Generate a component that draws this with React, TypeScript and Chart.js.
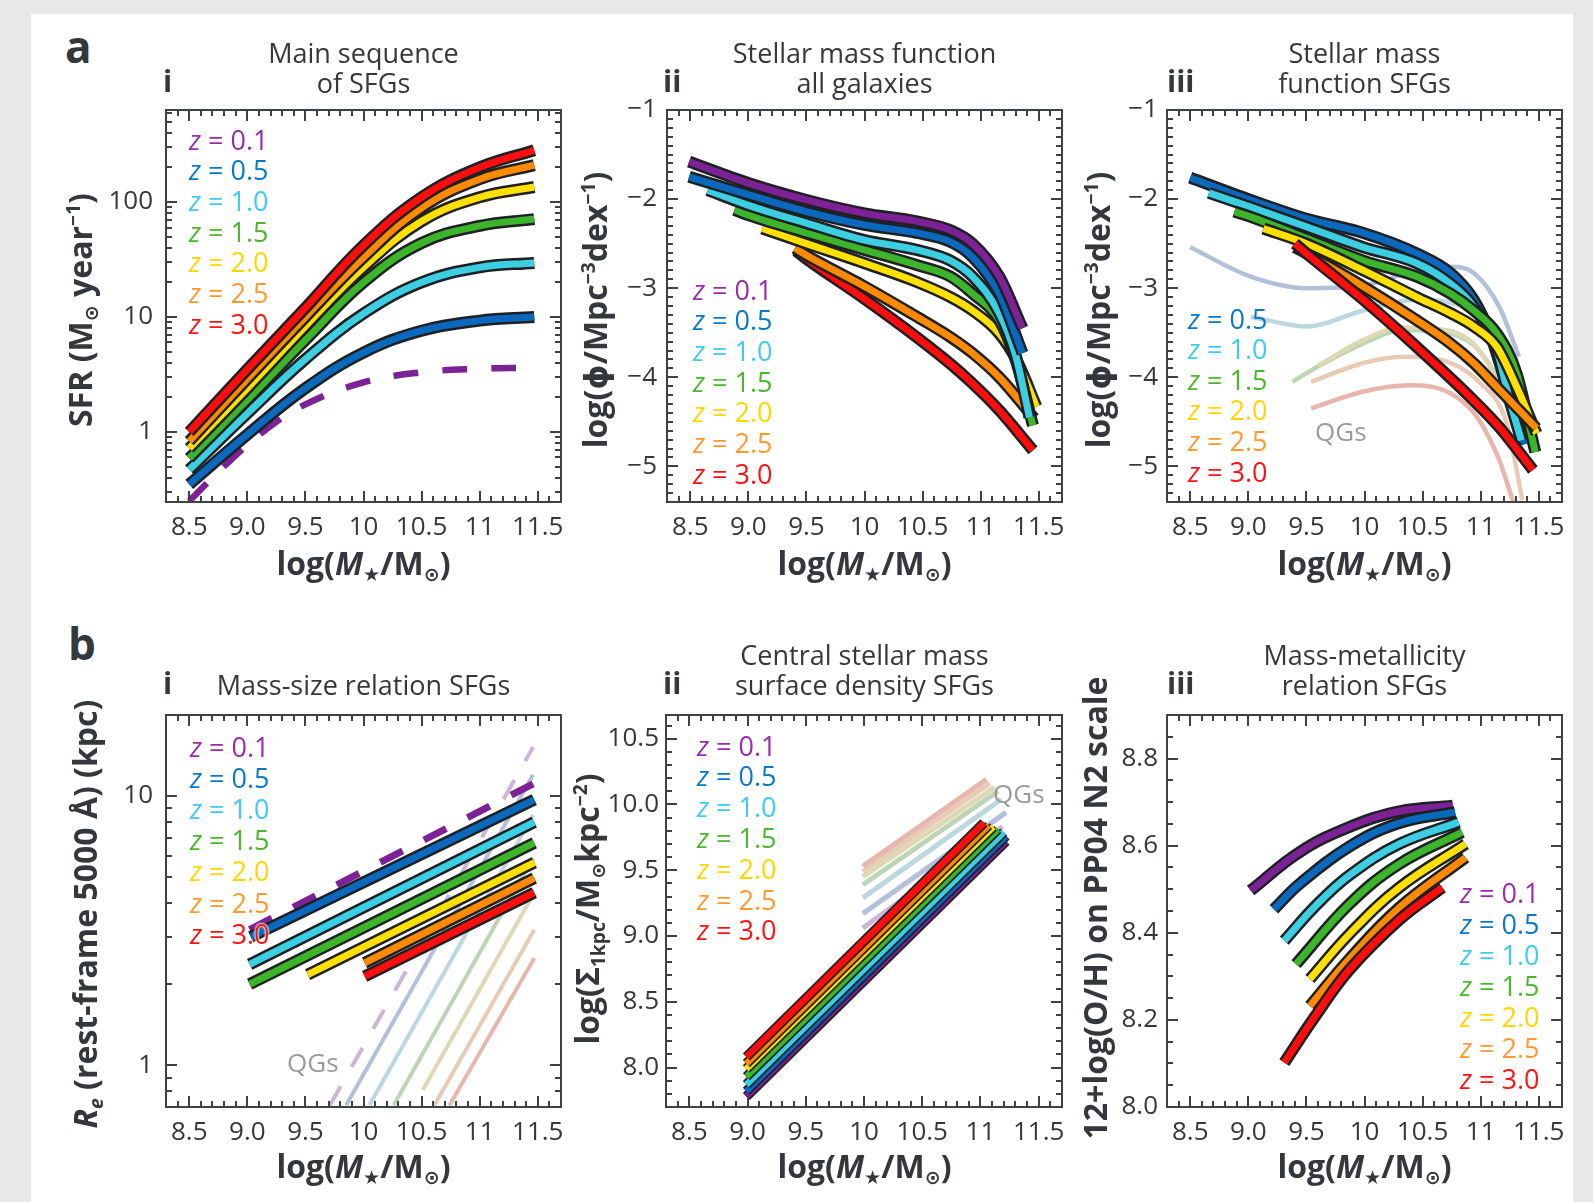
import React, { useEffect, useRef } from "react";
import { Chart, registerables } from "chart.js";

Chart.register(...registerables);

const FONT = "'Open Sans', 'DejaVu Sans', sans-serif";
const INK = "#34373b";
const OUTLINE = "#1e2023";

// ---------- shared labels / colours ----------
const zLabels = ["0.1", "0.5", "1.0", "1.5", "2.0", "2.5", "3.0"];
const zLineColors = ["#7d2196", "#0a68bd", "#3ccfe2", "#3cb52b", "#ffe000", "#ff8a00", "#ff0d0d"];
const zTextColors = ["#9a2ca9", "#0a78c8", "#3fcaf0", "#4cb72c", "#ffd600", "#ff9a32", "#ff1212"];
const zFaintColors = ["#cbb6d6", "#b3c0d9", "#bcd7dd", "#bed4b6", "#ddd9b4", "#e8cbb6", "#e7b6ad"];

const massTicks = [8.5, 9.0, 9.5, 10.0, 10.5, 11.0, 11.5];
const massTickLabels = ["8.5", "9.0", "9.5", "10", "10.5", "11", "11.5"];

// ---------- a-i : main sequence (SFR, Msun/yr) ----------
const msMass = [8.5, 9.0, 9.5, 10.0, 10.5, 11.0, 11.47];
const msSfrZ05 = [0.35, 0.95, 2.4, 4.9, 7.6, 9.3, 10.0];
const msSfrZ10 = [0.47, 1.45, 4.3, 10.7, 20, 27, 29.5];
const msSfrZ15 = [0.59, 1.9, 6.3, 20, 44, 62, 71];
const msSfrZ20 = [0.72, 2.4, 8.3, 27, 68, 110, 135];
const msSfrZ25 = [0.83, 2.9, 10, 33, 89, 158, 209];
const msSfrZ30 = [1.0, 3.5, 12, 42, 110, 200, 282];
const msMassZ01 = [8.5, 8.84, 9.16, 9.5, 10.0, 10.5, 11.0, 11.4];
const msSfrZ01 = [0.25, 0.55, 1.05, 1.74, 2.7, 3.3, 3.55, 3.62];
const sfrTicks = [1, 10, 100];
const sfrTickLabels = ["1", "10", "100"];

// ---------- a-ii : stellar mass function, all galaxies ----------
const smfAllMassZ01 = [8.49, 9.0, 9.5, 10.0, 10.45, 10.74, 10.93, 11.16, 11.36];
const smfAllZ01 = [-1.58, -1.82, -2.01, -2.16, -2.25, -2.35, -2.5, -2.87, -3.45];
const smfAllMassZ05 = [8.49, 9.0, 9.5, 10.0, 10.45, 10.74, 10.93, 11.16, 11.36];
const smfAllZ05 = [-1.75, -1.95, -2.14, -2.29, -2.38, -2.48, -2.65, -3.06, -3.73];
const smfAllMassZ10 = [8.65, 9.0, 9.5, 10.0, 10.45, 10.74, 10.93, 11.16, 11.3, 11.42];
const smfAllZ10 = [-1.9, -2.07, -2.27, -2.46, -2.57, -2.69, -2.87, -3.28, -3.75, -4.45];
const smfAllMassZ15 = [8.88, 9.0, 9.5, 10.0, 10.45, 10.74, 10.93, 11.16, 11.3, 11.45];
const smfAllZ15 = [-2.12, -2.18, -2.38, -2.57, -2.74, -2.87, -3.06, -3.36, -3.8, -4.54];
const smfAllMassZ20 = [9.12, 9.5, 10.0, 10.45, 10.74, 10.93, 11.16, 11.31, 11.48];
const smfAllZ20 = [-2.33, -2.5, -2.72, -2.93, -3.1, -3.25, -3.51, -3.81, -4.33];
const smfAllMassZ25 = [9.4, 9.5, 10.0, 10.45, 10.74, 10.93, 11.16, 11.46];
const smfAllZ25 = [-2.55, -2.63, -2.98, -3.32, -3.55, -3.73, -4.0, -4.46];
const smfAllMassZ30 = [9.41, 9.5, 10.0, 10.45, 10.74, 10.93, 11.16, 11.45];
const smfAllZ30 = [-2.58, -2.67, -3.12, -3.55, -3.85, -4.07, -4.37, -4.82];
const phiTicks = [-1, -2, -3, -4, -5];
const phiTickLabels = ["\u22121", "\u22122", "\u22123", "\u22124", "\u22125"];

// ---------- a-iii : stellar mass function, SFGs (+ QGs) ----------
const smfSfMassZ05 = [8.5, 9.02, 9.5, 9.99, 10.45, 10.74, 10.94, 11.08, 11.2, 11.38];
const smfSfZ05 = [-1.76, -2.01, -2.22, -2.38, -2.61, -2.83, -3.13, -3.51, -4.0, -4.75];
const smfSfMassZ10 = [8.66, 9.02, 9.5, 9.99, 10.45, 10.74, 10.94, 11.14, 11.25, 11.35];
const smfSfZ10 = [-1.93, -2.09, -2.31, -2.54, -2.72, -2.95, -3.21, -3.7, -4.26, -4.71];
const smfSfMassZ15 = [8.88, 9.02, 9.5, 9.99, 10.45, 10.74, 10.94, 11.14, 11.31, 11.47];
const smfSfZ15 = [-2.14, -2.2, -2.44, -2.69, -2.87, -3.06, -3.25, -3.51, -3.96, -4.84];
const smfSfMassZ20 = [9.13, 9.5, 9.99, 10.45, 10.74, 10.94, 11.14, 11.31, 11.48];
const smfSfZ20 = [-2.33, -2.5, -2.8, -3.1, -3.28, -3.43, -3.66, -4.11, -4.63];
const smfSfMassZ25 = [9.4, 9.5, 9.99, 10.45, 10.74, 10.94, 11.14, 11.48];
const smfSfZ25 = [-2.54, -2.61, -2.98, -3.36, -3.62, -3.84, -4.11, -4.57];
const smfSfMassZ30 = [9.4, 9.5, 9.99, 10.45, 10.94, 11.16, 11.45];
const smfSfZ30 = [-2.5, -2.61, -3.13, -3.66, -4.26, -4.56, -5.04];
const smfQgMassZ05 = [8.5, 9.02, 9.5, 9.99, 10.45, 10.74, 10.94, 11.16, 11.33];
const smfQgZ05 = [-2.54, -2.87, -3.0, -2.97, -2.8, -2.76, -2.83, -3.21, -3.77];
const smfQgMassZ10 = [9.02, 9.5, 9.99, 10.45, 10.94, 11.16, 11.33];
const smfQgZ10 = [-3.32, -3.43, -3.25, -3.13, -3.28, -3.76, -4.33];
const smfQgMassZ15 = [9.38, 9.6, 9.99, 10.33, 10.74, 11.0, 11.22, 11.35];
const smfQgZ15 = [-4.05, -3.88, -3.62, -3.47, -3.51, -3.72, -4.24, -4.8];
const smfQgMassZ20 = [9.6, 9.99, 10.33, 10.74, 11.0, 11.22, 11.38];
const smfQgZ20 = [-3.87, -3.58, -3.44, -3.48, -3.72, -4.3, -5.0];
const smfQgMassZ25 = [9.54, 9.99, 10.33, 10.74, 11.0, 11.22, 11.36];
const smfQgZ25 = [-4.05, -3.84, -3.77, -3.84, -4.07, -4.5, -5.38];
const smfQgMassZ30 = [9.54, 9.99, 10.39, 10.74, 10.97, 11.16, 11.28];
const smfQgZ30 = [-4.35, -4.16, -4.09, -4.18, -4.45, -4.93, -5.4];

// ---------- b-i : mass-size relation (Re, kpc) ----------
const sizeMassZ01 = [9.02, 11.46];
const sizeZ01 = [3.19, 11.1];
const sizeMassZ05 = [9.03, 11.47];
const sizeZ05 = [3.0, 9.7];
const sizeMassZ10 = [9.02, 11.47];
const sizeZ10 = [2.37, 8.0];
const sizeMassZ15 = [9.02, 11.47];
const sizeZ15 = [2.0, 6.7];
const sizeMassZ20 = [9.52, 11.47];
const sizeZ20 = [2.17, 5.66];
const sizeMassZ25 = [10.01, 11.47];
const sizeZ25 = [2.4, 4.96];
const sizeMassZ30 = [10.01, 11.47];
const sizeZ30 = [2.14, 4.38];
const qgSizeMassZ01 = [9.71, 11.46];
const qgSizeZ01 = [0.71, 15.2];
const qgSizeMassZ05 = [9.85, 11.46];
const qgSizeZ05 = [0.71, 12.0];
const qgSizeMassZ10 = [10.05, 11.46];
const qgSizeZ10 = [0.71, 8.5];
const qgSizeMassZ15 = [10.26, 11.46];
const qgSizeZ15 = [0.71, 5.9];
const qgSizeMassZ20 = [10.51, 11.46];
const qgSizeZ20 = [0.81, 4.3];
const qgSizeMassZ25 = [10.61, 11.47];
const qgSizeZ25 = [0.71, 3.19];
const qgSizeMassZ30 = [10.74, 11.47];
const qgSizeZ30 = [0.71, 2.5];
const sizeTicks = [1, 10];
const sizeTickLabels = ["1", "10"];

// ---------- b-ii : central surface density ----------
const sigMassZ01 = [8.99, 11.22];
const sigZ01 = [7.78, 9.72];
const sigMassZ05 = [8.99, 11.22];
const sigZ05 = [7.82, 9.76];
const sigMassZ10 = [8.99, 11.2];
const sigZ10 = [7.87, 9.79];
const sigMassZ15 = [8.99, 11.15];
const sigZ15 = [7.93, 9.81];
const sigMassZ20 = [8.99, 11.11];
const sigZ20 = [7.99, 9.83];
const sigMassZ25 = [8.99, 11.07];
const sigZ25 = [8.03, 9.84];
const sigMassZ30 = [8.99, 11.03];
const sigZ30 = [8.08, 9.86];
const qgSigMassZ01 = [9.99, 11.19];
const qgSigZ01 = [9.06, 9.83];
const qgSigMassZ05 = [9.99, 11.22];
const qgSigZ05 = [9.17, 9.94];
const qgSigMassZ10 = [9.99, 11.18];
const qgSigZ10 = [9.29, 10.04];
const qgSigMassZ15 = [9.99, 11.15];
const qgSigZ15 = [9.39, 10.1];
const qgSigMassZ20 = [9.99, 11.12];
const qgSigZ20 = [9.45, 10.13];
const qgSigMassZ25 = [9.99, 11.08];
const qgSigZ25 = [9.49, 10.16];
const qgSigMassZ30 = [9.99, 11.05];
const qgSigZ30 = [9.53, 10.19];
const sigTicks = [8.0, 8.5, 9.0, 9.5, 10.0, 10.5];
const sigTickLabels = ["8.0", "8.5", "9.0", "9.5", "10.0", "10.5"];

// ---------- b-iii : mass-metallicity ----------
const mzrMassZ01 = [9.02, 9.44, 9.87, 10.3, 10.76];
const mzrZ01 = [8.497, 8.585, 8.643, 8.679, 8.692];
const mzrMassZ05 = [9.22, 9.44, 9.87, 10.3, 10.78];
const mzrZ05 = [8.454, 8.512, 8.598, 8.652, 8.677];
const mzrMassZ10 = [9.31, 9.58, 9.87, 10.3, 10.81];
const mzrZ10 = [8.382, 8.462, 8.532, 8.604, 8.654];
const mzrMassZ15 = [9.41, 9.87, 10.3, 10.84];
const mzrZ15 = [8.328, 8.466, 8.558, 8.631];
const mzrMassZ20 = [9.53, 9.87, 10.3, 10.87];
const mzrZ20 = [8.294, 8.397, 8.504, 8.604];
const mzrMassZ25 = [9.53, 9.87, 10.3, 10.87];
const mzrZ25 = [8.232, 8.34, 8.458, 8.573];
const mzrMassZ30 = [9.31, 9.58, 9.87, 10.3, 10.67];
const mzrZ30 = [8.102, 8.21, 8.315, 8.43, 8.504];
const ohTicks = [8.0, 8.2, 8.4, 8.6, 8.8];
const ohTickLabels = ["8.0", "8.2", "8.4", "8.6", "8.8"];

// ---------- helpers ----------
type Curve = "mono" | "spline" | "straight";
type LineSpec = {
  xs: number[];
  ys: number[];
  color: string;
  width: number;
  outline?: number;
  dash?: number[];
  curve: Curve;
};

type PanelSpec = {
  id: string;
  left: number;
  top: number;
  right: number;
  bottom: number;
  yLog: boolean;
  yMin: number;
  yMax: number;
  yTicks: number[];
  yTickLabels: string[];
  yMinor: number[];
  yPad: number;
  lines: LineSpec[];
};

const steps = (a: number, b: number, s: number) => {
  const n = Math.round((b - a) / s);
  return Array.from({ length: n + 1 }, (_, i) => +(a + i * s).toFixed(4));
};

const logMinor = (decades: number[], lo: number, hi: number) => {
  const out: number[] = [];
  decades.forEach((d) => {
    for (let k = 2; k <= 9; k++) {
      const v = +(k * d).toPrecision(3);
      if (v > lo && v < hi) out.push(v);
    }
  });
  return out;
};

const main = (xs: number[], ys: number[], z: number, curve: Curve = "mono", ow = 12, cw = 7): LineSpec => ({
  xs,
  ys,
  color: zLineColors[z],
  width: cw,
  outline: ow,
  curve,
});
const faint = (xs: number[], ys: number[], z: number, w = 4.5, curve: Curve = "mono", dash?: number[]): LineSpec => ({
  xs,
  ys,
  color: zFaintColors[z],
  width: w,
  curve,
  dash,
});

const AXIS_W = 120;
const AXIS_H = 50;
const PAD_T = 30;
const PAD_R = 30;

const PANELS: PanelSpec[] = [
  {
    id: "a1",
    left: 166, top: 110, right: 561, bottom: 502,
    yLog: true, yMin: 0.246, yMax: 631,
    yTicks: sfrTicks, yTickLabels: sfrTickLabels,
    yMinor: logMinor([0.1, 1, 10, 100], 0.246, 631), yPad: 13,
    lines: [
      { xs: msMassZ01, ys: msSfrZ01, color: zLineColors[0], width: 6.5, dash: [25, 24], curve: "spline" },
      main(msMass, msSfrZ05, 1, "spline"),
      main(msMass, msSfrZ10, 2, "spline"),
      main(msMass, msSfrZ15, 3, "spline"),
      main(msMass, msSfrZ20, 4, "spline"),
      main(msMass, msSfrZ25, 5, "spline"),
      main(msMass, msSfrZ30, 6, "spline"),
    ],
  },
  {
    id: "a2",
    left: 667, top: 110, right: 1062, bottom: 502,
    yLog: false, yMin: -5.4, yMax: -1,
    yTicks: phiTicks, yTickLabels: phiTickLabels,
    yMinor: steps(-5.4, -1, 0.1), yPad: 10,
    lines: [
      main(smfAllMassZ30, smfAllZ30, 6),
      main(smfAllMassZ25, smfAllZ25, 5),
      main(smfAllMassZ20, smfAllZ20, 4),
      main(smfAllMassZ15, smfAllZ15, 3),
      main(smfAllMassZ10, smfAllZ10, 2),
      main(smfAllMassZ05, smfAllZ05, 1),
      main(smfAllMassZ01, smfAllZ01, 0),
    ],
  },
  {
    id: "a3",
    left: 1167, top: 110, right: 1562, bottom: 502,
    yLog: false, yMin: -5.4, yMax: -1,
    yTicks: phiTicks, yTickLabels: phiTickLabels,
    yMinor: steps(-5.4, -1, 0.1), yPad: 9,
    lines: [
      faint(smfQgMassZ05, smfQgZ05, 1),
      faint(smfQgMassZ10, smfQgZ10, 2),
      faint(smfQgMassZ15, smfQgZ15, 3),
      faint(smfQgMassZ20, smfQgZ20, 4),
      faint(smfQgMassZ25, smfQgZ25, 5),
      faint(smfQgMassZ30, smfQgZ30, 6),
      main(smfSfMassZ05, smfSfZ05, 1),
      main(smfSfMassZ10, smfSfZ10, 2),
      main(smfSfMassZ15, smfSfZ15, 3),
      main(smfSfMassZ20, smfSfZ20, 4),
      main(smfSfMassZ25, smfSfZ25, 5),
      main(smfSfMassZ30, smfSfZ30, 6),
    ],
  },
  {
    id: "b1",
    left: 166, top: 715, right: 561, bottom: 1107,
    yLog: true, yMin: 0.705, yMax: 20,
    yTicks: sizeTicks, yTickLabels: sizeTickLabels,
    yMinor: logMinor([0.1, 1], 0.705, 20), yPad: 13,
    lines: [
      faint(qgSizeMassZ01, qgSizeZ01, 0, 4, "straight", [22, 22]),
      faint(qgSizeMassZ05, qgSizeZ05, 1, 4, "straight"),
      faint(qgSizeMassZ10, qgSizeZ10, 2, 4, "straight"),
      faint(qgSizeMassZ15, qgSizeZ15, 3, 4, "straight"),
      faint(qgSizeMassZ20, qgSizeZ20, 4, 4, "straight"),
      faint(qgSizeMassZ25, qgSizeZ25, 5, 4, "straight"),
      faint(qgSizeMassZ30, qgSizeZ30, 6, 4, "straight"),
      { xs: sizeMassZ01, ys: sizeZ01, color: zLineColors[0], width: 7, dash: [25, 24], curve: "straight" },
      main(sizeMassZ05, sizeZ05, 1, "straight"),
      main(sizeMassZ10, sizeZ10, 2, "straight"),
      main(sizeMassZ15, sizeZ15, 3, "straight"),
      main(sizeMassZ20, sizeZ20, 4, "straight"),
      main(sizeMassZ25, sizeZ25, 5, "straight"),
      main(sizeMassZ30, sizeZ30, 6, "straight"),
    ],
  },
  {
    id: "b2",
    left: 666, top: 715, right: 1062, bottom: 1107,
    yLog: false, yMin: 7.7, yMax: 10.68,
    yTicks: sigTicks, yTickLabels: sigTickLabels,
    yMinor: steps(7.7, 10.6, 0.1), yPad: 7,
    lines: [
      faint(qgSigMassZ01, qgSigZ01, 0, 5, "straight"),
      faint(qgSigMassZ05, qgSigZ05, 1, 5, "straight"),
      faint(qgSigMassZ10, qgSigZ10, 2, 5, "straight"),
      faint(qgSigMassZ15, qgSigZ15, 3, 5, "straight"),
      faint(qgSigMassZ20, qgSigZ20, 4, 5, "straight"),
      faint(qgSigMassZ25, qgSigZ25, 5, 5, "straight"),
      faint(qgSigMassZ30, qgSigZ30, 6, 5, "straight"),
      main(sigMassZ01, sigZ01, 0, "straight", 10, 6.5),
      main(sigMassZ05, sigZ05, 1, "straight", 10, 6.5),
      main(sigMassZ10, sigZ10, 2, "straight", 10, 6.5),
      main(sigMassZ15, sigZ15, 3, "straight", 10, 6.5),
      main(sigMassZ20, sigZ20, 4, "straight", 10, 6.5),
      main(sigMassZ25, sigZ25, 5, "straight", 10, 6.5),
      main(sigMassZ30, sigZ30, 6, "straight", 10, 6.5),
    ],
  },
  {
    id: "b3",
    left: 1167, top: 715, right: 1562, bottom: 1107,
    yLog: false, yMin: 8.0, yMax: 8.9,
    yTicks: ohTicks, yTickLabels: ohTickLabels,
    yMinor: steps(8.0, 8.9, 0.05), yPad: 9,
    lines: [
      main(mzrMassZ01, mzrZ01, 0, "spline"),
      main(mzrMassZ05, mzrZ05, 1, "spline"),
      main(mzrMassZ10, mzrZ10, 2, "spline"),
      main(mzrMassZ15, mzrZ15, 3, "spline"),
      main(mzrMassZ20, mzrZ20, 4, "spline"),
      main(mzrMassZ25, mzrZ25, 5, "spline"),
      main(mzrMassZ30, mzrZ30, 6, "spline"),
    ],
  },
];

const xMinor = steps(8.4, 11.6, 0.1);

function makeFramePlugin(yMajor: number[], yMinor: number[]) {
  return {
    id: "frameTicks",
    afterDatasetsDraw(chart: any) {
      const { ctx, chartArea: a, scales } = chart;
      const xs = scales.x;
      const ys = scales.y;
      const MAJ = 11;
      const MIN = 6;
      ctx.save();
      ctx.strokeStyle = "#3e4145";
      ctx.lineWidth = 2;
      ctx.beginPath();
      const xTick = (v: number, len: number) => {
        const p = Math.round(xs.getPixelForValue(v));
        if (p <= a.left + 1 || p >= a.right - 1) return;
        ctx.moveTo(p, a.bottom);
        ctx.lineTo(p, a.bottom - len);
        ctx.moveTo(p, a.top);
        ctx.lineTo(p, a.top + len);
      };
      const yTick = (v: number, len: number) => {
        const p = Math.round(ys.getPixelForValue(v));
        if (p <= a.top + 1 || p >= a.bottom - 1) return;
        ctx.moveTo(a.left, p);
        ctx.lineTo(a.left + len, p);
        ctx.moveTo(a.right, p);
        ctx.lineTo(a.right - len, p);
      };
      xMinor.forEach((v) => xTick(v, MIN));
      massTicks.forEach((v) => xTick(v, MAJ));
      yMinor.forEach((v) => yTick(v, MIN));
      yMajor.forEach((v) => yTick(v, MAJ));
      ctx.stroke();
      ctx.strokeRect(a.left, a.top, a.right - a.left, a.bottom - a.top);
      ctx.restore();
    },
  };
}

function buildDatasets(lines: LineSpec[]) {
  const out: any[] = [];
  lines.forEach((l) => {
    const data = l.xs.map((x, i) => ({ x, y: l.ys[i] }));
    const common = {
      data,
      pointRadius: 0,
      fill: false,
      tension: l.curve === "spline" ? 0.4 : 0,
      cubicInterpolationMode: l.curve === "mono" ? "monotone" : "default",
      borderCapStyle: "butt",
      borderJoinStyle: "round",
      clip: 0,
    };
    if (l.outline) out.push({ ...common, borderColor: OUTLINE, borderWidth: l.outline });
    out.push({ ...common, borderColor: l.color, borderWidth: l.width, borderDash: l.dash || [] });
  });
  // Chart.js paints dataset 0 last (on top)
  return out.reverse();
}

function PanelChart({ spec }: { spec: PanelSpec }) {
  const ref = useRef<HTMLCanvasElement>(null);
  const w = spec.right - spec.left + AXIS_W + PAD_R;
  const h = spec.bottom - spec.top + PAD_T + AXIS_H;
  useEffect(() => {
    const canvas = ref.current;
    if (!canvas) return;
    const tickFont = { family: FONT, size: 26 };
    const chart = new Chart(canvas, {
      type: "line",
      data: { datasets: buildDatasets(spec.lines) },
      options: {
        animation: false,
        responsive: false,
        devicePixelRatio: 1,
        events: [],
        layout: { padding: { left: 0, top: PAD_T, right: PAD_R, bottom: 0 } },
        plugins: { legend: { display: false }, tooltip: { enabled: false } },
        scales: {
          x: {
            type: "linear",
            min: 8.3,
            max: 11.7,
            grid: { display: false, drawTicks: false },
            border: { display: false },
            afterBuildTicks: (s: any) => {
              s.ticks = massTicks.map((v) => ({ value: v }));
            },
            afterFit: (s: any) => {
              s.height = AXIS_H;
            },
            ticks: {
              autoSkip: false,
              maxRotation: 0,
              minRotation: 0,
              padding: 10,
              color: INK,
              font: tickFont,
              callback: (_v: any, i: number) => massTickLabels[i],
            },
          },
          y: {
            type: spec.yLog ? "logarithmic" : "linear",
            min: spec.yMin,
            max: spec.yMax,
            grid: { display: false, drawTicks: false },
            border: { display: false },
            afterBuildTicks: (s: any) => {
              s.ticks = spec.yTicks.map((v) => ({ value: v }));
            },
            afterFit: (s: any) => {
              s.width = AXIS_W;
            },
            ticks: {
              autoSkip: false,
              padding: spec.yPad,
              color: INK,
              font: tickFont,
              callback: (_v: any, i: number) => spec.yTickLabels[i],
            },
          },
        },
      },
      plugins: [makeFramePlugin(spec.yTicks, spec.yMinor)],
    } as any);
    return () => chart.destroy();
  }, [spec]);
  return (
    <canvas
      ref={ref}
      width={w}
      height={h}
      style={{ position: "absolute", left: spec.left - AXIS_W, top: spec.top - PAD_T, width: w, height: h }}
    />
  );
}

// ---------- text helpers ----------
const ASC = 0.888; // baseline offset (em) for Open Sans with line-height 1em

function Txt(props: {
  x: number;
  y: number;
  size: number;
  weight?: number;
  color?: string;
  align?: "left" | "center";
  halo?: boolean;
  children: any;
}) {
  const { x, y, size, weight = 400, color = INK, align = "left", halo = false, children } = props;
  const style: any = {
    position: "absolute",
    top: y - ASC * size,
    fontSize: size,
    lineHeight: `${size}px`,
    fontWeight: weight,
    color,
    whiteSpace: "nowrap",
    fontFamily: FONT,
  };
  if (halo) style.textShadow = "0 0 2px #fff, 0 0 2px #fff, 0 0 3px #fff";
  if (align === "center") {
    style.left = x - 400;
    style.width = 800;
    style.textAlign = "center";
  } else {
    style.left = x;
  }
  return <div style={style}>{children}</div>;
}

const Sub = ({ children }: any) => (
  <span style={{ fontSize: "0.6em", position: "relative", top: "0.32em" }}>{children}</span>
);
const Sup = ({ children }: any) => (
  <span style={{ fontSize: "0.6em", position: "relative", top: "-0.62em" }}>{children}</span>
);

function VTitle({ cx, cy, children }: any) {
  const size = 32;
  return (
    <div
      style={{
        position: "absolute",
        left: cx - 400,
        top: cy - size / 2,
        width: 800,
        height: size,
        lineHeight: `${size}px`,
        fontSize: size,
        fontWeight: 700,
        textAlign: "center",
        whiteSpace: "nowrap",
        transform: "rotate(-90deg)",
        fontFamily: FONT,
        color: INK,
      }}
    >
      {children}
    </div>
  );
}

function MassTitle({ cx, y }: { cx: number; y: number }) {
  return (
    <Txt x={cx} y={y} size={32} weight={700} align="center">
      log(<i>M</i>
      <Sub>★</Sub>/M<Sub>⊙</Sub>)
    </Txt>
  );
}

function Legend({ x, y0, dy, idx, halo }: { x: number; y0: number; dy: number; idx: number[]; halo?: boolean }) {
  const size = 27;
  return (
    <>
      {idx.map((z, i) => (
        <Txt key={z} x={x} y={y0 + i * dy + 0.357 * size} size={size} color={zTextColors[z]} halo={halo}>
          <i>z</i> = {zLabels[z]}
        </Txt>
      ))}
    </>
  );
}

const ALL_Z = [0, 1, 2, 3, 4, 5, 6];

export default function App() {
  return (
    <div
      style={{
        position: "absolute",
        left: 0,
        top: 0,
        width: 1593,
        height: 1202,
        background: "#e8e8e8",
        overflow: "hidden",
        fontFamily: FONT,
      }}
    >
      <div style={{ position: "absolute", left: 31, top: 14, width: 1542, height: 1188, background: "#ffffff" }} />
      {PANELS.map((p) => (
        <PanelChart key={p.id} spec={p} />
      ))}

      {/* panel letters */}
      <Txt x={65} y={63} size={44} weight={700}>a</Txt>
      <Txt x={68} y={660} size={44} weight={700}>b</Txt>

      {/* roman numerals */}
      <Txt x={163} y={93} size={30} weight={700}>i</Txt>
      <Txt x={663} y={93} size={30} weight={700}>ii</Txt>
      <Txt x={1167} y={93} size={30} weight={700}>iii</Txt>
      <Txt x={163} y={695} size={30} weight={700}>i</Txt>
      <Txt x={663} y={695} size={30} weight={700}>ii</Txt>
      <Txt x={1167} y={695} size={30} weight={700}>iii</Txt>

      {/* titles */}
      <Txt x={363.5} y={63} size={27} align="center">Main sequence</Txt>
      <Txt x={363.5} y={93} size={27} align="center">of SFGs</Txt>
      <Txt x={864.5} y={63} size={27} align="center">Stellar mass function</Txt>
      <Txt x={864.5} y={93} size={27} align="center">all galaxies</Txt>
      <Txt x={1364.5} y={63} size={27} align="center">Stellar mass</Txt>
      <Txt x={1364.5} y={93} size={27} align="center">function SFGs</Txt>
      <Txt x={363.5} y={695} size={27} align="center">Mass-size relation SFGs</Txt>
      <Txt x={864.5} y={665} size={27} align="center">Central stellar mass</Txt>
      <Txt x={864.5} y={695} size={27} align="center">surface density SFGs</Txt>
      <Txt x={1364.5} y={665} size={27} align="center">Mass-metallicity</Txt>
      <Txt x={1364.5} y={695} size={27} align="center">relation SFGs</Txt>

      {/* x axis titles */}
      <MassTitle cx={363.5} y={575} />
      <MassTitle cx={864.5} y={575} />
      <MassTitle cx={1364.5} y={575} />
      <MassTitle cx={363.5} y={1178} />
      <MassTitle cx={864.5} y={1178} />
      <MassTitle cx={1364.5} y={1178} />

      {/* y axis titles */}
      <VTitle cx={80} cy={310}>
        SFR (M<Sub>⊙</Sub> year<Sup>−1</Sup>)
      </VTitle>
      <VTitle cx={595} cy={310}>
        log(ϕ/Mpc<Sup>−3</Sup>dex<Sup>−1</Sup>)
      </VTitle>
      <VTitle cx={1098} cy={310}>
        log(ϕ/Mpc<Sup>−3</Sup>dex<Sup>−1</Sup>)
      </VTitle>
      <VTitle cx={85} cy={914}>
        <i>R</i>
        <Sub>
          <i>e</i>
        </Sub>{" "}
        (rest-frame 5000 Å) (kpc)
      </VTitle>
      <VTitle cx={587} cy={909}>
        log(Σ<Sub>1kpc</Sub>/M<Sub>⊙</Sub>kpc<Sup>−2</Sup>)
      </VTitle>
      <VTitle cx={1095} cy={908}>
        12+log(O/H) on PP04 N2 scale
      </VTitle>

      {/* legends */}
      <Legend x={189} y0={140} dy={30.7} idx={ALL_Z} />
      <Legend x={693} y0={290} dy={30.7} idx={ALL_Z} />
      <Legend x={1188} y0={319} dy={30.6} idx={[1, 2, 3, 4, 5, 6]} />
      <Legend x={190} y0={747} dy={31.2} idx={ALL_Z} halo />
      <Legend x={697} y0={746} dy={30.8} idx={ALL_Z} />
      <Legend x={1460} y0={893} dy={31} idx={ALL_Z} />

      {/* QGs annotations */}
      <Txt x={1315} y={441} size={26} color="#9b9b9b">QGs</Txt>
      <Txt x={287} y={1072} size={26} color="#9b9b9b">QGs</Txt>
      <Txt x={993} y={803} size={26} color="#9b9b9b">QGs</Txt>
    </div>
  );
}
